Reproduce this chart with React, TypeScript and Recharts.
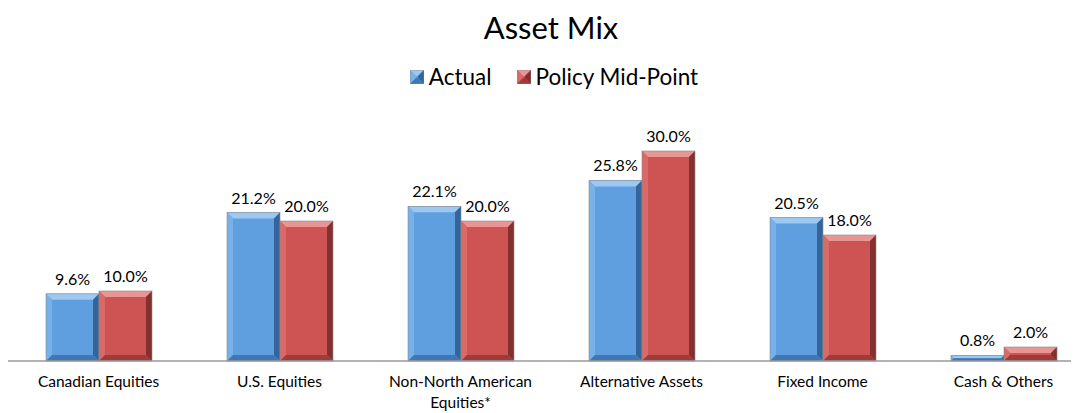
import React from "react";
import { BarChart, Bar, XAxis, YAxis, LabelList } from "recharts";

const categories = [
  "Canadian Equities",
  "U.S. Equities",
  "Non-North American Equities*",
  "Alternative Assets",
  "Fixed Income",
  "Cash & Others",
];
const actual = [9.6, 21.2, 22.1, 25.8, 20.5, 0.8];
const policyMidPoint = [10.0, 20.0, 20.0, 30.0, 18.0, 2.0];
const seriesNames = ["Actual", "Policy Mid-Point"];

const data = categories.map((c, i) => ({
  name: c,
  actual: actual[i],
  policy: policyMidPoint[i],
}));

const FONT = "Lato, 'Open Sans', sans-serif";

const PALETTE = {
  blue: { base: "#5f9fe0", light: "#78b0e8", lighter: "#9cc8f2", dark: "#3f78b4", darker: "#33659a" },
  red: { base: "#cd5452", light: "#d96a68", lighter: "#e89593", dark: "#9e3c3a", darker: "#833130" },
};

const makeBevel = (pal: any) => (props: any) => {
  const { x, y, width, height } = props;
  if (!height || height <= 0) return null;
  const b = Math.min(6, height / 2, width / 2);
  const x2 = x + width;
  const y2 = y + height;
  return (
    <g>
      <rect x={x} y={y} width={width} height={height} fill={pal.base} />
      <polygon points={`${x},${y} ${x2},${y} ${x2 - b},${y + b} ${x + b},${y + b}`} fill={pal.lighter} />
      <polygon points={`${x},${y} ${x + b},${y + b} ${x + b},${y2 - b} ${x},${y2}`} fill={pal.light} />
      <polygon points={`${x2},${y} ${x2},${y2} ${x2 - b},${y2 - b} ${x2 - b},${y + b}`} fill={pal.darker} />
      <polygon points={`${x},${y2} ${x + b},${y2 - b} ${x2 - b},${y2 - b} ${x2},${y2}`} fill={pal.dark} />
      <rect x={x} y={y} width={width} height={height} fill="none" stroke="#8a8a8a" strokeWidth={0.6} />
    </g>
  );
};

const wrapWords = (s: string, max: number) => {
  const words = s.split(" ");
  const lines: string[] = [];
  let cur = "";
  words.forEach((w) => {
    const t = cur ? cur + " " + w : w;
    if (t.length > max && cur) {
      lines.push(cur);
      cur = w;
    } else cur = t;
  });
  if (cur) lines.push(cur);
  return lines;
};

const Tick = (props: any) => {
  const { x, y, payload } = props;
  const lines = wrapWords(payload.value, 20);
  return (
    <g>
      {lines.map((l, i) => (
        <text
          key={i}
          x={x}
          y={y + 18 + i * 21}
          textAnchor="middle"
          fontFamily={FONT}
          fontSize={15.5}
          fill="#000"
        >
          {l}
        </text>
      ))}
    </g>
  );
};

const LegendSwatch = ({ pal }: any) => (
  <svg width={14} height={14} style={{ marginRight: 5 }}>
    {makeBevel(pal)({ x: 0, y: 0, width: 14, height: 14 })}
  </svg>
);

export default function App() {
  return (
    <div style={{ position: "relative", width: 1071, height: 405, overflow: "hidden", fontFamily: FONT }}>
      <div
        style={{
          position: "absolute",
          left: 0,
          width: 1086,
          top: 0,
          textAlign: "center",
          fontSize: 31,
          color: "#000",
        }}
      >
        Asset Mix
      </div>
      <div
        style={{
          position: "absolute",
          left: 0,
          width: 1092,
          top: 55,
          display: "flex",
          justifyContent: "center",
          alignItems: "center",
          fontSize: 22.5,
          color: "#000",
        }}
      >
        <span style={{ display: "flex", alignItems: "center", marginRight: 25 }}>
          <LegendSwatch pal={PALETTE.blue} />
          {seriesNames[0]}
        </span>
        <span style={{ display: "flex", alignItems: "center" }}>
          <LegendSwatch pal={PALETTE.red} />
          {seriesNames[1]}
        </span>
      </div>
      <div style={{ position: "absolute", left: 0, top: 0 }}>
        <BarChart
          width={1086}
          height={405}
          data={data}
          margin={{ top: 108, right: 0, bottom: 12, left: 0 }}
          barCategoryGap={38}
          barGap={0}
        >
          <XAxis
            dataKey="name"
            height={40}
            tickLine={false}
            axisLine={{ stroke: "#999", strokeWidth: 1.5 }}
            tick={<Tick />}
            interval={0}
          />
          <YAxis hide domain={[0, 35]} />
          <Bar dataKey="actual" name={seriesNames[0]} shape={makeBevel(PALETTE.blue)} isAnimationActive={false}>
            <LabelList
              dataKey="actual"
              position="top"
              offset={9}
              formatter={(v: any) => Number(v).toFixed(1) + "%"}
              style={{ fontFamily: FONT, fontSize: 16, fill: "#000" }}
            />
          </Bar>
          <Bar dataKey="policy" name={seriesNames[1]} shape={makeBevel(PALETTE.red)} isAnimationActive={false}>
            <LabelList
              dataKey="policy"
              position="top"
              offset={9}
              formatter={(v: any) => Number(v).toFixed(1) + "%"}
              style={{ fontFamily: FONT, fontSize: 16, fill: "#000" }}
            />
          </Bar>
        </BarChart>
      </div>
    </div>
  );
}
